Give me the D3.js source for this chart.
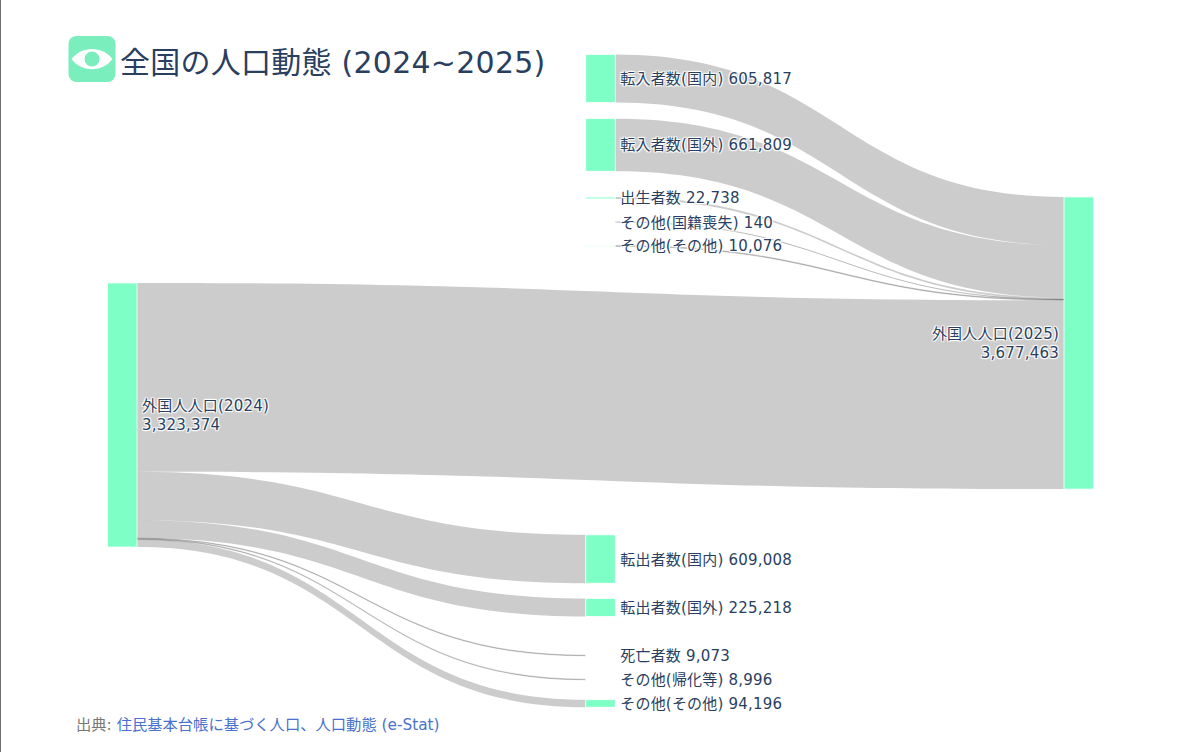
<!DOCTYPE html>
<html lang="ja">
<head>
<meta charset="utf-8">
<script src="https://cdn.jsdelivr.net/npm/d3@7"></script>
<style>
html,body{margin:0;padding:0;background:#fff;overflow:hidden}
svg{display:block}
text{font-family:"DejaVu Sans","Noto Sans CJK JP",sans-serif}
.lbl{font-size:15px;letter-spacing:.2px;fill:#2a3f5f;text-shadow:1px 1px 1px #fff,-1px -1px 1px #fff,1px -1px 1px #fff,-1px 1px 1px #fff,0 0 2px #fff}
</style>
</head>
<body>
<svg id="c" width="1200" height="752"></svg>
<script>
// ---- data ----
const titleText = "全国の人口動態 (2024~2025)";
const nodeNames = ["外国人人口(2024)","転入者数(国内)","転入者数(国外)","出生者数","その他(国籍喪失)","その他(その他)","外国人人口(2025)","転出者数(国内)","転出者数(国外)","死亡者数","その他(帰化等)","その他(その他)"];
const nodeValues = [3323374,605817,661809,22738,140,10076,3677463,609008,225218,9073,8996,94196];
const linkSources = [1,2,3,4,5,0,0,0,0,0,0];
const linkTargets = [6,6,6,6,6,6,7,8,9,10,11];
const linkValues = [605817,661809,22738,140,10076,2376883,609008,225218,9073,8996,94196];

// ---- layout (plotly-style manual arrangement, as fractions) ----
const nodeColumn = [0,.5,.5,.5,.5,.5,1,.5,.5,.5,.5,.5];
const nodeCentre = [.5528,.0375,.1393,.2205,.2573,.2940,.4426,.7734,.8476,.9211,.9579,.9946];
const W = 1200, H = 752, nodeW = 29.5;
const NODE = "#7dffc5", LOGO = "#7beebd", INK = "#2a3f5f";

const x = d3.scaleLinear().domain([0,1]).range([107.5,1064]);
const yC = d3.scaleLinear().domain([0,1]).range([54,707]);
const thick = d3.scaleLinear().domain([0,3677463]).range([0,292.2]);
const svg = d3.select("#c");

// left window edge
svg.append("line").attr("x1",.5).attr("x2",.5).attr("y1",0).attr("y2",H).attr("stroke","#6e6e6e").attr("stroke-width",1);

const nodes = nodeNames.map((name,i)=>{
  const h = thick(nodeValues[i]);
  const top = yC(nodeCentre[i]) - h/2;
  return {name,value:nodeValues[i],x0:x(nodeColumn[i]),x1:x(nodeColumn[i])+nodeW,y0:top,y1:top+h,outY:top,inY:top};
});
const links = linkValues.map((v,i)=>{
  const s = nodes[linkSources[i]], t = nodes[linkTargets[i]], h = thick(v);
  const l = {x0:s.x1,x1:t.x0,sy:s.outY,ty:t.inY,h};
  s.outY += h; t.inY += h;
  return l;
});

const ribbon = d3.area().curve(d3.curveBumpX).x(d=>d.x).y0(d=>d.y0).y1(d=>d.y1);
svg.append("g").selectAll("path").data(links).join("path")
  .attr("d",l=>ribbon([{x:l.x0,y0:l.sy,y1:l.sy+l.h},{x:l.x1,y0:l.ty,y1:l.ty+l.h}]))
  .attr("fill","rgba(0,0,0,0.2)")
  .attr("stroke",l=>l.h<1?"rgba(0,0,0,0.14)":"none").attr("stroke-width",1);

svg.append("g").selectAll("rect").data(nodes).join("rect")
  .attr("x",d=>d.x0).attr("y",d=>d.y0)
  .attr("width",nodeW).attr("height",d=>Math.max(d.y1-d.y0,.01))
  .attr("fill",NODE).attr("stroke","#fff").attr("stroke-width",.8);

const fmt = d3.format(",");
const labels = svg.append("g").selectAll("g").data(nodes).join("g");
labels.each(function(d){
  const g = d3.select(this), cy = (d.y0+d.y1)/2;
  if (d.x0 < 200 || d.x0 > 1000) {
    const left = d.x0 < 200;
    const tx = left ? d.x1+5 : d.x0-5;
    [d.name,fmt(d.value)].forEach((s,k)=>{
      g.append("text").attr("class","lbl").attr("x",tx).attr("y",cy-4+k*19)
       .attr("text-anchor",left?"start":"end").text(s);
    });
  } else {
    g.append("text").attr("class","lbl").attr("x",d.x1+5).attr("y",cy+5.5).text(`${d.name} ${fmt(d.value)}`);
  }
});

// title + logo
const logo = svg.append("g").attr("transform","translate(92,59)");
logo.append("rect").attr("x",-23.5).attr("y",-23).attr("width",47).attr("height",46).attr("rx",8).attr("fill",LOGO);
logo.append("path").attr("d","M-20.5,0C-11,-13.5 11,-13.5 20.5,0C11,13.5 -11,13.5 -20.5,0Z").attr("fill","#fff");
logo.append("circle").attr("r",7.5).attr("fill",LOGO);
svg.append("text").attr("x",120).attr("y",73).attr("font-size",30).attr("letter-spacing",.25).attr("fill",INK).text(titleText);

// source
const src = svg.append("text").attr("x",76).attr("y",730).attr("font-size",15.3);
src.append("tspan").attr("fill","#777").text("出典: ");
src.append("tspan").attr("fill","#4a72cc").text("住民基本台帳に基づく人口、人口動態 (e-Stat)");
</script>
</body>
</html>
